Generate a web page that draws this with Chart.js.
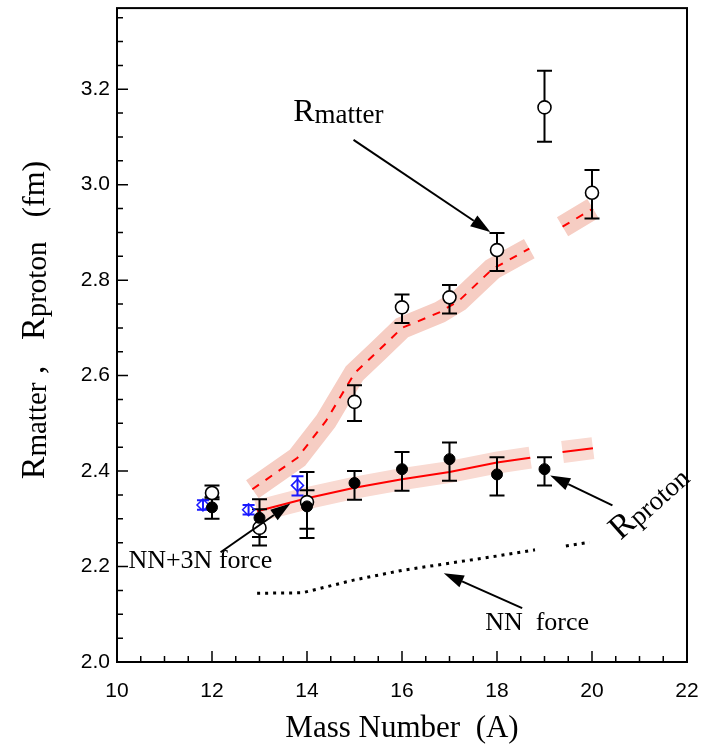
<!DOCTYPE html>
<html>
<head>
<meta charset="utf-8">
<script src="https://cdn.jsdelivr.net/npm/chart.js@4.4.1/dist/chart.umd.min.js"></script>
<style>
  html, body { margin: 0; padding: 0; background: #fff; }
</style>
</head>
<body>
<canvas id="c" width="709" height="749"></canvas>
<script>
// axis ticks
const xTicks = [10, 12, 14, 16, 18, 20, 22];
const xMinor = [10.5, 11, 11.5, 12.5, 13, 13.5, 14.5, 15, 15.5, 16.5, 17, 17.5, 18.5, 19, 19.5, 20.5, 21, 21.5];
const yTicks = [2.0, 2.2, 2.4, 2.6, 2.8, 3.0, 3.2];
const yMinor = [2.05, 2.1, 2.15, 2.25, 2.3, 2.35, 2.45, 2.5, 2.55, 2.65, 2.7, 2.75, 2.85, 2.9, 2.95, 3.05, 3.1, 3.15, 3.25, 3.3, 3.35];

// experiment: proton radii (filled)
const protonA  = [12, 13, 14, 15, 16, 17, 18, 19];
const protonR  = [2.324, 2.302, 2.326, 2.375, 2.404, 2.425, 2.393, 2.404];
const protonLo = [2.300, 2.262, 2.260, 2.340, 2.359, 2.380, 2.349, 2.370];
const protonHi = [2.345, 2.341, 2.360, 2.400, 2.440, 2.460, 2.429, 2.429];

// experiment: matter radii (open)
const matterA  = [12, 13, 14, 15, 16, 17, 18, 19, 20];
const matterR  = [2.354, 2.281, 2.335, 2.545, 2.743, 2.764, 2.863, 3.162, 2.983];
const matterLo = [2.341, 2.244, 2.279, 2.505, 2.710, 2.730, 2.819, 3.090, 2.929];
const matterHi = [2.370, 2.320, 2.398, 2.580, 2.770, 2.790, 2.899, 3.239, 3.031];

// other proton data (blue diamonds)
const blueA  = [11.81, 12.77, 13.80];
const blueR  = [2.329, 2.319, 2.370];
const blueLo = [2.319, 2.309, 2.349];
const blueHi = [2.339, 2.329, 2.389];

// NN+3N calculation, matter (dashed) and proton (solid); null = gap
const calcMatterA = [12.85, 13.8, 14.4, 15.0, 15.5, 16.0, 16.8, 17.2, 17.9, 18.68, null, 19.38, 20.02];
const calcMatterR = [2.362, 2.428, 2.505, 2.605, 2.652, 2.700, 2.733, 2.757, 2.823, 2.866, null, 2.912, 2.950];
const calcProtonA = [12.95, 14.0, 15.0, 16.0, 17.0, 18.0, 18.7, null, 19.38, 20.02];
const calcProtonR = [2.316, 2.343, 2.365, 2.383, 2.398, 2.418, 2.428, null, 2.440, 2.448];

// NN only calculation (dotted)
const nnA = [12.95, 13.9, 15.0, 16.0, 17.0, 18.0, 18.8, null, 19.45, 19.95];
const nnR = [2.144, 2.145, 2.172, 2.192, 2.207, 2.222, 2.235, null, 2.243, 2.251];

const pts = (xs, ys) => xs.map((x, i) => (x === null ? { x: null, y: null } : { x, y: ys[i] }));

const SERIF = '"Liberation Serif", "Times New Roman", serif';
const SANS = '"Liberation Sans", Arial, sans-serif';

function drawRuns(ctx, parts, x, y, angle, center) {
  ctx.save();
  ctx.translate(x, y);
  ctx.rotate(angle || 0);
  ctx.fillStyle = '#000';
  ctx.textBaseline = 'alphabetic';
  ctx.textAlign = 'left';
  let total = 0;
  parts.forEach(p => { ctx.font = p.size + 'px ' + SERIF; total += ctx.measureText(p.t).width; });
  let cx = center ? -total / 2 : 0;
  parts.forEach(p => {
    ctx.font = p.size + 'px ' + SERIF;
    ctx.fillText(p.t, cx, p.dy || 0);
    cx += ctx.measureText(p.t).width;
  });
  ctx.restore();
}

function arrow(ctx, x1, y1, x2, y2) {
  const a = Math.atan2(y2 - y1, x2 - x1);
  const len = 20, half = 6.5;
  ctx.save();
  ctx.strokeStyle = '#000';
  ctx.fillStyle = '#000';
  ctx.lineWidth = 2;
  ctx.beginPath();
  ctx.moveTo(x1, y1);
  ctx.lineTo(x2 - len * Math.cos(a), y2 - len * Math.sin(a));
  ctx.stroke();
  ctx.beginPath();
  ctx.moveTo(x2, y2);
  ctx.lineTo(x2 - len * Math.cos(a) + half * Math.sin(a), y2 - len * Math.sin(a) - half * Math.cos(a));
  ctx.lineTo(x2 - len * Math.cos(a) - half * Math.sin(a), y2 - len * Math.sin(a) + half * Math.cos(a));
  ctx.closePath();
  ctx.fill();
  ctx.restore();
}

function errorBars(ctx, sx, sy, xs, lo, hi, color, cap) {
  ctx.save();
  ctx.strokeStyle = color;
  ctx.lineWidth = 2;
  xs.forEach((a, i) => {
    const px = sx.getPixelForValue(a);
    const p1 = sy.getPixelForValue(lo[i]);
    const p2 = sy.getPixelForValue(hi[i]);
    ctx.beginPath();
    ctx.moveTo(px, p1); ctx.lineTo(px, p2);
    ctx.moveTo(px - cap, p1); ctx.lineTo(px + cap, p1);
    ctx.moveTo(px - cap, p2); ctx.lineTo(px + cap, p2);
    ctx.stroke();
  });
  ctx.restore();
}

const decor = {
  id: 'decor',
  beforeDatasetDraw(chart, args) {
    if (chart.data.datasets[args.index].label !== 'matterExp') return;
    const { ctx, scales: { x, y } } = chart;
    errorBars(ctx, x, y, protonA, protonLo, protonHi, '#000', 7.5);
    errorBars(ctx, x, y, matterA, matterLo, matterHi, '#000', 7.5);
    errorBars(ctx, x, y, blueA, blueLo, blueHi, '#1a1aff', 6);
  },
  afterDraw(chart) {
    const { ctx, chartArea: ca, scales: { x, y } } = chart;
    ctx.save();
    // frame
    ctx.strokeStyle = '#000';
    ctx.lineWidth = 2;
    ctx.strokeRect(ca.left, ca.top, ca.right - ca.left, ca.bottom - ca.top);
    // inward ticks
    ctx.lineWidth = 1.5;
    ctx.beginPath();
    xTicks.forEach(v => { const p = x.getPixelForValue(v); ctx.moveTo(p, ca.bottom); ctx.lineTo(p, ca.bottom - 11); });
    xMinor.forEach(v => { const p = x.getPixelForValue(v); ctx.moveTo(p, ca.bottom); ctx.lineTo(p, ca.bottom - 6); });
    yTicks.forEach(v => { const p = y.getPixelForValue(v); ctx.moveTo(ca.left, p); ctx.lineTo(ca.left + 11, p); });
    yMinor.forEach(v => { const p = y.getPixelForValue(v); ctx.moveTo(ca.left, p); ctx.lineTo(ca.left + 6, p); });
    ctx.stroke();

    // tick labels
    ctx.fillStyle = '#000';
    ctx.font = '21px ' + SANS;
    ctx.textBaseline = 'middle';
    ctx.textAlign = 'center';
    xTicks.forEach(v => ctx.fillText(String(v), x.getPixelForValue(v), ca.bottom + 29));
    ctx.textAlign = 'right';
    yTicks.forEach(v => ctx.fillText(v.toFixed(1), ca.left - 7, y.getPixelForValue(v)));
    ctx.restore();

    const X = v => x.getPixelForValue(v), Y = v => y.getPixelForValue(v);

    // annotations
    drawRuns(ctx, [{ t: 'R', size: 32 }, { t: 'matter', size: 27, dy: 2 }], X(13.71), Y(3.133));
    arrow(ctx, X(14.98), Y(3.094), X(17.86), Y(2.901));

    drawRuns(ctx, [{ t: 'R', size: 34 }, { t: 'proton', size: 27, dy: 2 }], X(20.6), Y(2.254), -0.73);
    arrow(ctx, X(20.43), Y(2.328), X(19.12), Y(2.391));

    drawRuns(ctx, [{ t: 'NN+3N force', size: 26 }], X(10.24), Y(2.196));
    arrow(ctx, X(12.18), Y(2.230), X(13.65), Y(2.332));

    drawRuns(ctx, [{ t: 'NN  force', size: 26 }], X(17.75), Y(2.067));
    arrow(ctx, X(18.53), Y(2.113), X(16.88), Y(2.186));

    // axis titles
    drawRuns(ctx, [{ t: 'Mass Number  (A)', size: 31 }], (ca.left + ca.right) / 2, 737, 0, true);
    drawRuns(ctx, [
      { t: 'R', size: 34 }, { t: 'matter', size: 29, dy: 2 }, { t: ' ,   ', size: 34 },
      { t: 'R', size: 34 }, { t: 'proton', size: 29, dy: 2 }, { t: '   (fm)', size: 32 }
    ], 44, 320, -Math.PI / 2, true);
  }
};

const bandMatter = '#f6cdc3';
const bandProton = '#f9dad2';

new Chart(document.getElementById('c'), {
  type: 'scatter',
  data: {
    datasets: [
      { label: 'bandMatter', data: pts(calcMatterA, calcMatterR), showLine: true, spanGaps: false,
        borderColor: bandMatter, borderWidth: 22, borderCapStyle: 'butt', borderJoinStyle: 'miter',
        pointRadius: 0, order: 6 },
      { label: 'bandProton', data: pts(calcProtonA, calcProtonR), showLine: true, spanGaps: false,
        borderColor: bandProton, borderWidth: 22, borderCapStyle: 'butt', borderJoinStyle: 'miter',
        pointRadius: 0, order: 5 },
      { label: 'calcMatter', data: pts(calcMatterA, calcMatterR), showLine: true, spanGaps: false,
        borderColor: '#ff0000', borderWidth: 2, borderDash: [8, 8], pointRadius: 0, order: 4 },
      { label: 'calcProton', data: pts(calcProtonA, calcProtonR), showLine: true, spanGaps: false,
        borderColor: '#ff0000', borderWidth: 2, pointRadius: 0, order: 4 },
      { label: 'nn', data: pts(nnA, nnR), showLine: true, spanGaps: false,
        borderColor: '#000', borderWidth: 3, borderDash: [3, 5], pointRadius: 0, order: 4 },
      { label: 'matterExp', data: pts(matterA, matterR), pointStyle: 'circle', pointRadius: 6.5,
        pointBorderWidth: 1.6, pointBorderColor: '#000', pointBackgroundColor: '#fff', order: 3 },
      { label: 'blue', data: pts(blueA, blueR), pointStyle: 'rectRot', pointRadius: 6,
        pointBorderWidth: 1.5, pointBorderColor: '#1a1aff', pointBackgroundColor: 'rgba(0,0,0,0)', order: 2 },
      { label: 'protonExp', data: pts(protonA, protonR), pointStyle: 'circle', pointRadius: 5.5,
        pointBorderWidth: 1, pointBorderColor: '#000', pointBackgroundColor: '#000', order: 1 }
    ]
  },
  options: {
    responsive: false,
    animation: false,
    events: [],
    layout: { padding: { top: 7, right: 22, left: 0, bottom: 0 } },
    plugins: { legend: { display: false }, tooltip: { enabled: false } },
    scales: {
      x: {
        type: 'linear', min: 10, max: 22,
        afterBuildTicks: s => { s.ticks = xTicks.map(v => ({ value: v })); },
        afterFit: s => { s.height = 87; },
        grid: { display: false, drawTicks: false },
        border: { display: false },
        ticks: { display: false }
      },
      y: {
        type: 'linear', min: 2.0, max: 3.37,
        afterBuildTicks: s => { s.ticks = yTicks.map(v => ({ value: v })); },
        afterFit: s => { s.width = 117; },
        grid: { display: false, drawTicks: false },
        border: { display: false },
        ticks: { display: false }
      }
    }
  },
  plugins: [decor]
});
</script>
</body>
</html>
